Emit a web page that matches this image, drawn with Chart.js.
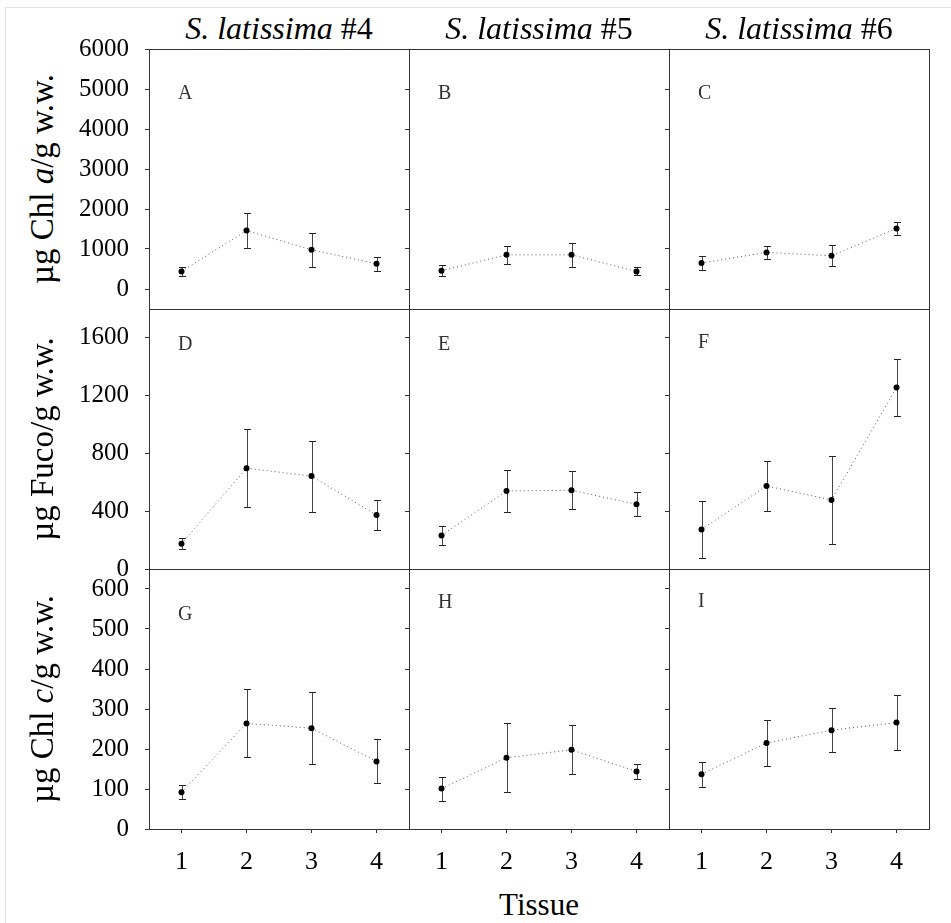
<!DOCTYPE html>
<html>
<head>
<meta charset="utf-8">
<title>Pigment content by tissue</title>
<script src="https://cdn.jsdelivr.net/npm/chart.js@4/dist/chart.umd.min.js"></script>
<style>
  body {
    margin: 0;
    width: 951px;
    height: 923px;
    overflow: hidden;
    position: relative;
    background: #fff;
    font-family: "Liberation Serif", "Times New Roman", serif;
    color: #000;
  }
  .frame {
    position: absolute;
    left: 5px;
    top: 7px;
    right: -10px;
    bottom: -10px;
    border-left: 1px solid #e2e2e2;
    border-top: 1px solid #e2e2e2;
  }
  canvas { position: absolute; }
  .coltitle {
    position: absolute;
    top: 12px;
    width: 260px;
    text-align: center;
    font-size: 32px;
    line-height: 32px;
    white-space: nowrap;
  }
  .ytitle {
    position: absolute;
    left: 42px;
    width: 300px;
    height: 36px;
    margin-left: -150px;
    margin-top: -18px;
    line-height: 36px;
    text-align: center;
    font-size: 33px;
    white-space: nowrap;
    transform: rotate(-90deg);
  }
  .xtitle {
    position: absolute;
    left: 409px;
    top: 889px;
    width: 260px;
    text-align: center;
    font-size: 31px;
    line-height: 31px;
  }
</style>
</head>
<body>
<div class="frame"></div>
<div class="xtitle">Tissue</div>

<script>
const tissues = ["1", "2", "3", "4"];
const plants = ["#4", "#5", "#6"];

// Chl a (µg/g w.w.), mean and SD per tissue
const chlA4 = [440, 1460, 980, 630];
const chlA4Sd = [115, 440, 420, 180];
const chlA5 = [455, 855, 855, 440];
const chlA5Sd = [140, 230, 300, 100];
const chlA6 = [650, 915, 830, 1515];
const chlA6Sd = [170, 155, 265, 165];

// fucoxanthin
const fuco4 = [175, 698, 643, 374];
const fuco4Sd = [37, 268, 245, 101];
const fuco5 = [232, 540, 545, 448];
const fuco5Sd = [67, 143, 133, 82];
const fuco6 = [274, 575, 478, 1257];
const fuco6Sd = [195, 172, 303, 199];

// Chl c
const chlC4 = [92, 264, 252, 169];
const chlC4Sd = [18, 85, 90, 55];
const chlC5 = [101, 178, 198, 144];
const chlC5Sd = [30, 86, 61, 18];
const chlC6 = [137, 215, 247, 266];
const chlC6Sd = [31, 58, 55, 69];

const chlATicks = [0, 1000, 2000, 3000, 4000, 5000, 6000];
const fucoTicks = [0, 400, 800, 1200, 1600];
const chlCTicks = [0, 100, 200, 300, 400, 500, 600];

const panelLetters = ["A", "B", "C", "D", "E", "F", "G", "H", "I"];

const rows = [
  { title: "µg Chl <i>a</i>/g w.w.", min: -500, max: 6000, ticks: chlATicks,
    means: [chlA4, chlA5, chlA6], sds: [chlA4Sd, chlA5Sd, chlA6Sd] },
  { title: "µg Fuco/g w.w.", min: 0, max: 1800, ticks: fucoTicks,
    means: [fuco4, fuco5, fuco6], sds: [fuco4Sd, fuco5Sd, fuco6Sd] },
  { title: "µg Chl <i>c</i>/g w.w.", min: 0, max: 650, ticks: chlCTicks,
    means: [chlC4, chlC5, chlC6], sds: [chlC4Sd, chlC5Sd, chlC6Sd] },
];

// layout of the 3x3 grid (px)
const PLOT_LEFT = 149;
const PLOT_TOP = 49;
const SIZE = 260;
const PAD_TOP = 40;
const letterDrop = [50, 50, 50, 41, 41, 39, 51, 39, 38];
const FONT = '"Liberation Serif", "Times New Roman", serif';

// vertical SD bars with caps, drawn under the line and points
const errorBars = {
  id: "errorBars",
  beforeDatasetsDraw(chart) {
    const { ctx, scales: { x, y } } = chart;
    const ds = chart.data.datasets[0];
    ctx.save();
    ctx.lineWidth = 1;
    ds.data.forEach((v, i) => {
      const px = Math.round(x.getPixelForValue(i)) + 0.5;
      const hi = Math.round(y.getPixelForValue(v + ds.errors[i])) + 0.5;
      const lo = Math.round(y.getPixelForValue(v - ds.errors[i])) + 0.5;
      ctx.strokeStyle = "#444";
      ctx.beginPath();
      ctx.moveTo(px, hi);
      ctx.lineTo(px, lo);
      ctx.stroke();
      ctx.strokeStyle = "#222";
      ctx.beginPath();
      ctx.moveTo(px - 3.5, hi);
      ctx.lineTo(px + 3.5, hi);
      ctx.moveTo(px - 3.5, lo);
      ctx.lineTo(px + 3.5, lo);
      ctx.stroke();
    });
    ctx.restore();
  },
};

// box around each panel plus its letter
const panelFrame = {
  id: "panelFrame",
  afterDraw(chart, args, opts) {
    const { ctx, chartArea: a } = chart;
    ctx.save();
    ctx.strokeStyle = "#333";
    ctx.lineWidth = 1;
    ctx.strokeRect(a.left + 0.5, a.top + 0.5, a.right - a.left, a.bottom - a.top);
    ctx.fillStyle = "#333";
    ctx.font = "20px " + FONT;
    ctx.textBaseline = "alphabetic";
    ctx.fillText(opts.letter, a.left + 29, a.top + opts.drop);
    ctx.restore();
  },
};

rows.forEach((row, r) => {
  const t = document.createElement("div");
  t.className = "ytitle";
  t.style.top = (PLOT_TOP + r * SIZE + SIZE / 2) + "px";
  t.innerHTML = row.title;
  document.body.appendChild(t);

  plants.forEach((plant, c) => {
    if (r === 0) {
      const h = document.createElement("div");
      h.className = "coltitle";
      h.style.left = (PLOT_LEFT + c * SIZE) + "px";
      h.innerHTML = "<i>S. latissima</i> " + plant;
      document.body.appendChild(h);
    }

    const isLeft = c === 0;
    const isBottom = r === rows.length - 1;
    const padL = isLeft ? PLOT_LEFT : 12;
    const padB = isBottom ? 70 : 40;
    const n = r * 3 + c;

    const canvas = document.createElement("canvas");
    canvas.width = padL + SIZE + 6;
    canvas.height = PAD_TOP + SIZE + padB;
    canvas.style.left = (PLOT_LEFT + c * SIZE - padL) + "px";
    canvas.style.top = (PLOT_TOP + r * SIZE - PAD_TOP) + "px";
    document.body.appendChild(canvas);

    new Chart(canvas, {
      type: "line",
      data: {
        labels: tissues,
        datasets: [{
          data: row.means[c],
          errors: row.sds[c],
          borderColor: "#555",
          borderWidth: 1,
          borderDash: [1, 3],
          pointRadius: 3,
          pointHoverRadius: 3,
          pointBorderWidth: 0,
          pointBackgroundColor: "#000",
          tension: 0,
          fill: false,
        }],
      },
      options: {
        responsive: false,
        animation: false,
        events: [],
        layout: { padding: { top: PAD_TOP, right: 6, bottom: 0, left: 0 } },
        plugins: {
          legend: { display: false },
          tooltip: { enabled: false },
          panelFrame: { letter: panelLetters[n], drop: letterDrop[n] },
        },
        scales: {
          x: {
            type: "category",
            offset: true,
            display: isBottom,
            grid: { drawOnChartArea: false, drawTicks: true, tickLength: 4, color: "#333" },
            border: { display: false },
            ticks: { color: "#000", font: { family: FONT, size: 26 }, padding: 14, maxRotation: 0 },
            afterFit: (s) => { s.height = padB; },
          },
          y: {
            min: row.min,
            max: row.max,
            afterBuildTicks: (s) => { s.ticks = row.ticks.map((v) => ({ value: v })); },
            grid: { drawOnChartArea: false, drawTicks: true, tickLength: 4, color: "#333" },
            border: { display: false },
            ticks: {
              display: isLeft,
              color: "#000",
              font: { family: FONT, size: 25 },
              padding: 16,
              autoSkip: false,
              callback: (v) => String(v),
            },
            afterFit: (s) => { s.width = padL; },
          },
        },
      },
      plugins: [errorBars, panelFrame],
    });
  });
});
</script>
</body>
</html>
